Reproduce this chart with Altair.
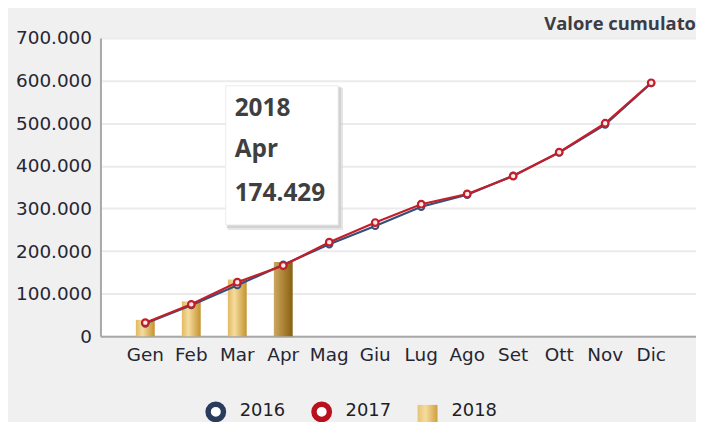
import altair as alt
import pandas as pd

MONTHS = ["Gen", "Feb", "Mar", "Apr", "Mag", "Giu", "Lug", "Ago", "Set", "Ott", "Nov", "Dic"]
YEARS = ["2016", "2017", "2018"]
V2016 = [30000, 73000, 120000, 168000, 216000, 259000, 304000, 332000, 377000, 431000, 497000, 594000]
V2017 = [32000, 75000, 127000, 166000, 221000, 267000, 310000, 334000, 376000, 432000, 500000, 595000]
V2018 = [38500, 82000, 133000, 174429]
Y_TICKS = [0, 100000, 200000, 300000, 400000, 500000, 600000, 700000]
TITLE = "Valore cumulato"
HIGHLIGHT_MONTH = "Apr"

lines_df = pd.DataFrame({
    "month": MONTHS * 2,
    "year": ["2016"] * len(MONTHS) + ["2017"] * len(MONTHS),
    "value": V2016 + V2017,
})
bars_df = pd.DataFrame({"month": MONTHS[:len(V2018)], "year": "2018", "value": V2018})
legend_df = pd.DataFrame({"year": YEARS})
title_df = pd.DataFrame({"title": [TITLE]})

COLORS = ["#2a3c5c", "#b8101c", "#e0b65a"]
LINE_COLORS = ["#34507a", "#c41e2a"]


def grad(stops):
    return alt.LinearGradient(gradient="linear", x1=0, x2=1, y1=0, y2=0,
                              stops=[alt.GradientStop(offset=o, color=c) for o, c in stops])


grad_light = grad([(0, "#e2b964"), (0.35, "#f5dc9c"), (1, "#c4922f")])
grad_dark = grad([(0, "#cba961"), (0.4, "#b38a3e"), (1, "#86600f")])
grad_legend = grad([(0, "#e8c274"), (0.4, "#f5dc9e"), (1, "#cf9f3e")])

AX_FONT = "DejaVu Sans"
AX_SIZE = 18.5
x_enc = alt.X("month:N", sort=MONTHS,
              scale=alt.Scale(domain=MONTHS, paddingInner=0.59, paddingOuter=0.77),
              axis=alt.Axis(title=None, labelAngle=0, ticks=False, labelPadding=9,
                            labelFont=AX_FONT, labelFontSize=AX_SIZE, labelColor="#262633",
                            domainColor="#a8a8a8", domainWidth=2, grid=False))
y_enc = alt.Y("value:Q", scale=alt.Scale(domain=[0, 700000], nice=False),
              axis=alt.Axis(title=None, values=Y_TICKS, ticks=False, labelPadding=9,
                            labelFont=AX_FONT, labelFontSize=AX_SIZE, labelColor="#262633",
                            labelExpr="datum.value == 0 ? '0' : replace(format(datum.value, ','), ',', '.')",
                            domainColor="#a8a8a8", domainWidth=2,
                            gridColor="#ebebeb", gridWidth=2))

bars = alt.Chart(bars_df).mark_bar().encode(
    x=x_enc, y=y_enc,
    fill=alt.condition(alt.datum.month == HIGHLIGHT_MONTH, alt.value(grad_dark), alt.value(grad_light)),
)

line16 = alt.Chart(lines_df).transform_filter(alt.datum.year == "2016").mark_line(
    strokeWidth=2.2, color=LINE_COLORS[0]).encode(x=x_enc, y=y_enc)
pts16 = alt.Chart(lines_df).transform_filter(alt.datum.year == "2016").mark_point(
    filled=True, fill="#f4f4f8", stroke=LINE_COLORS[0], strokeWidth=2, size=40, opacity=1).encode(
    x=x_enc, y=y_enc)
line17 = alt.Chart(lines_df).transform_filter(alt.datum.year == "2017").mark_line(
    strokeWidth=2.2, color=LINE_COLORS[1]).encode(x=x_enc, y=y_enc)
pts17 = alt.Chart(lines_df).transform_filter(alt.datum.year == "2017").mark_point(
    filled=True, fill="#fbeaea", stroke=LINE_COLORS[1], strokeWidth=2.2, size=44, opacity=1).encode(
    x=x_enc, y=y_enc)

# tooltip-style annotation box for the highlighted bar
tip_src = bars_df[bars_df["month"] == HIGHLIGHT_MONTH]
shadow1 = alt.Chart(tip_src).mark_rect(color="#d6d6d6", opacity=0.6).encode(
    x=alt.value(128), x2=alt.value(244), y=alt.value(50), y2=alt.value(193))
shadow2 = alt.Chart(tip_src).mark_rect(color="#c4c4c4", opacity=0.6).encode(
    x=alt.value(127), x2=alt.value(242), y=alt.value(49), y2=alt.value(191))
box = alt.Chart(tip_src).mark_rect(color="#ffffff", stroke="#ececec", strokeWidth=1).encode(
    x=alt.value(126), x2=alt.value(239), y=alt.value(48), y2=alt.value(188))
tip_style = dict(font="Open Sans", fontSize=24.5, fontWeight="bold", color="#3f3f3f",
                 align="left", baseline="middle")
t_year = alt.Chart(tip_src).mark_text(**tip_style).encode(
    text="year:N", x=alt.value(135), y=alt.value(71))
t_month = alt.Chart(tip_src).mark_text(**tip_style).encode(
    text="month:N", x=alt.value(135), y=alt.value(113))
t_val = alt.Chart(tip_src).transform_calculate(
    lbl="replace(format(datum.value, ','), ',', '.')").mark_text(**tip_style).encode(
    text="lbl:N", x=alt.value(135), y=alt.value(157))

# chart title, top-right above the plot
title_mark = alt.Chart(title_df).mark_text(
    font="Open Sans", fontSize=18.5, fontWeight="bold", color="#3c3c46",
    align="right", baseline="alphabetic").encode(
    text="title:N", x=alt.value(599), y=alt.value(-8))

main = alt.layer(bars, line16, pts16, line17, pts17, shadow1, shadow2, box,
                 t_year, t_month, t_val, title_mark)

# legend drawn below the plot
leg_x = alt.X("year:N", sort=YEARS, axis=None,
              scale=alt.Scale(domain=YEARS, range=[116, 329], padding=0))
LEG_Y = 376
leg_rings = alt.Chart(legend_df).transform_filter(alt.datum.year != "2018").mark_point(
    shape="circle", filled=True, fill="#ffffff", strokeWidth=5.5, size=240, opacity=1).encode(
    x=leg_x, y=alt.value(LEG_Y),
    stroke=alt.Stroke("year:N", scale=alt.Scale(domain=YEARS, range=COLORS), legend=None))
leg_sq = alt.Chart(legend_df).transform_filter(alt.datum.year == "2018").mark_point(
    shape="square", filled=True, fill=grad_legend, strokeWidth=0, size=400, opacity=1).encode(
    x=leg_x, y=alt.value(LEG_Y + 3))
leg_txt = alt.Chart(legend_df).mark_text(
    align="left", baseline="middle", dx=24, font="DejaVu Sans", fontSize=18, color="#1e1e28").encode(
    x=leg_x, y=alt.value(LEG_Y - 1), text="year:N")
leg = alt.layer(leg_rings, leg_sq, leg_txt)

chart = alt.layer(main, leg).resolve_scale(x="independent").properties(
    width=599, height=300,
    padding={"left": 93, "top": 29, "right": 0, "bottom": 85},
    autosize=alt.AutoSizeParams(type="none"),
    background="#f0f0f0",
).configure_view(fill="#ffffff", stroke=None)

chart.save("out.html", embed_options={"renderer": "svg", "actions": False})
